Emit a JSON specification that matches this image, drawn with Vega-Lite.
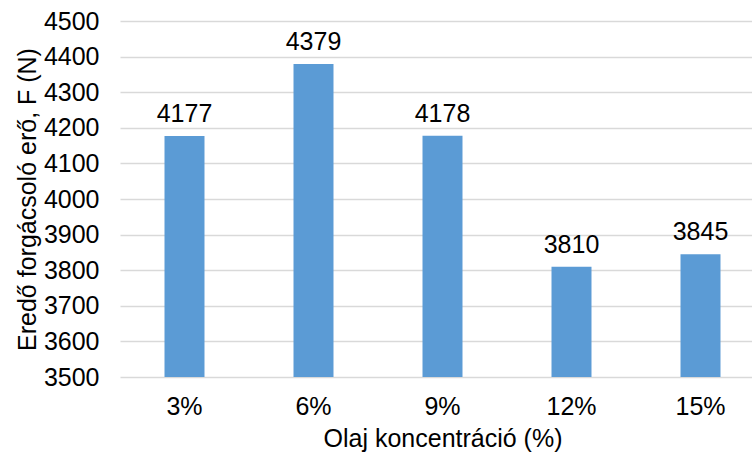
{
  "$schema": "https://vega.github.io/schema/vega-lite/v6.json",
  "width": 632,
  "height": 356,
  "autosize": "none",
  "padding": {"left": 120, "top": 21, "right": 0, "bottom": 75},
  "background": "white",
  "config": {
    "view": {"stroke": null},
    "font": "Liberation Sans",
    "axis": {
      "labelFont": "Liberation Sans",
      "titleFont": "Liberation Sans",
      "labelColor": "#000000",
      "titleColor": "#000000",
      "titleFontWeight": "normal",
      "labelFontSize": 25,
      "titleFontSize": 25
    }
  },
  "data": {
    "values": [
      {"konc": "3%", "ero": 4177},
      {"konc": "6%", "ero": 4379},
      {"konc": "9%", "ero": 4178},
      {"konc": "12%", "ero": 3810},
      {"konc": "15%", "ero": 3845}
    ]
  },
  "encoding": {
    "x": {
      "field": "konc",
      "type": "nominal",
      "sort": null,
      "scale": {"range": [0, 645], "paddingInner": 0.69, "paddingOuter": 0.345},
      "axis": {
        "title": "Olaj koncentráció (%)",
        "labelAngle": 0,
        "domain": false,
        "ticks": false,
        "labelPadding": 17,
        "titlePadding": 7
      }
    },
    "y": {
      "field": "ero",
      "type": "quantitative",
      "scale": {"domain": [3500, 4500], "zero": false, "nice": false},
      "axis": {
        "title": "Eredő forgácsoló erő, F (N)",
        "format": "d",
        "values": [3500, 3600, 3700, 3800, 3900, 4000, 4100, 4200, 4300, 4400, 4500],
        "domain": false,
        "ticks": false,
        "gridColor": "#d9d9d9",
        "gridWidth": 1.3,
        "labelPadding": 21,
        "titlePadding": 3
      }
    }
  },
  "layer": [
    {
      "mark": {"type": "bar", "color": "#5b9bd5", "clip": true}
    },
    {
      "mark": {"type": "text", "baseline": "alphabetic", "dy": -14, "fontSize": 25, "color": "#000000", "font": "Liberation Sans"},
      "encoding": {"text": {"field": "ero", "type": "quantitative", "format": "d"}}
    }
  ]
}
